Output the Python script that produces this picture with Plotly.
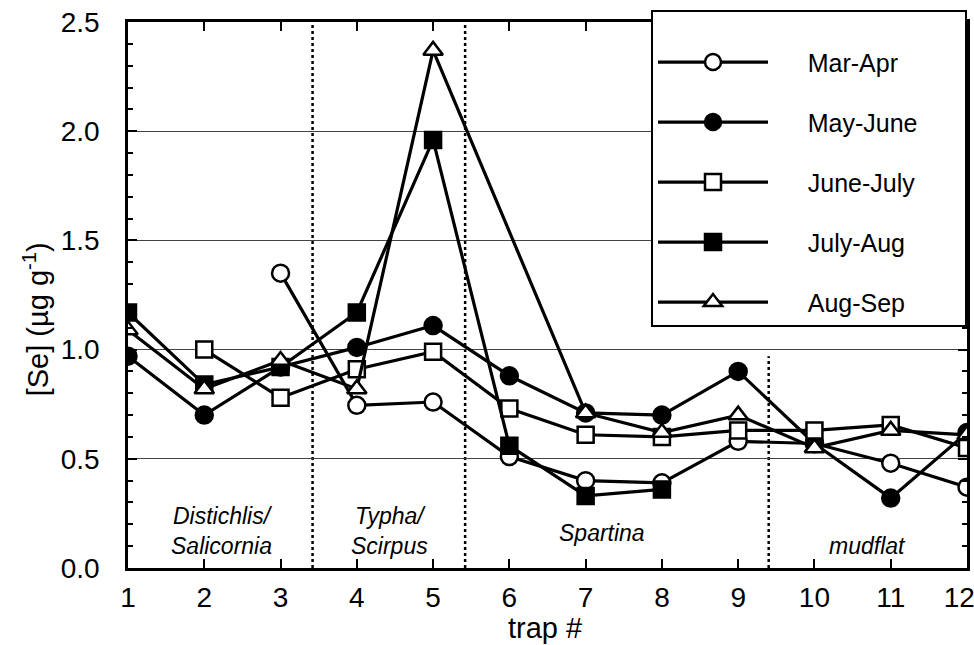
import plotly.graph_objects as go

traps = [1, 2, 3, 4, 5, 6, 7, 8, 9, 10, 11, 12]

mar_apr   = [None, None, 1.35, 0.745, 0.76, 0.51, 0.40, 0.39, 0.58, 0.57, 0.48, 0.37]
may_june  = [0.97, 0.70, 0.92, 1.01, 1.11, 0.88, 0.71, 0.70, 0.90, 0.57, 0.32, 0.62]
june_july = [None, 1.00, 0.78, 0.91, 0.99, 0.73, 0.61, 0.60, 0.63, 0.63, 0.655, 0.55]
july_aug  = [1.17, 0.84, 0.92, 1.17, 1.96, 0.56, 0.33, 0.36, None, None, None, None]
aug_sep   = [1.09, 0.82, 0.95, 0.82, 2.37, None, 0.71, 0.62, 0.70, 0.55, 0.63, 0.61]

series_names = ["Mar-Apr", "May-June", "June-July", "July-Aug", "Aug-Sep"]
series_values = [mar_apr, may_june, june_july, july_aug, aug_sep]
series_symbols = ["circle", "circle", "square", "square", "triangle-up"]
series_fills = ["white", "black", "white", "black", "white"]

zone_bounds = [3.42, 5.42, 9.4]
zone_bound_tops = [2.5, 2.5, 0.97]
zone_labels = ["<i>Distichlis/</i><br><i>Salicornia</i>", "<i>Typha/</i><br><i>Scirpus</i>", "<i>Spartina</i>", "<i>mudflat</i>"]
zone_label_x = [2.23, 4.43, 7.21, 10.7]
zone_label_y = [0.17, 0.17, 0.16, 0.10]

y_ticks = [0.0, 0.5, 1.0, 1.5, 2.0, 2.5]
x_tick_labels = ["1", "2", "3", "4", "5", "6", "7", "8", "9", "10", "11", "12"]

x_title = "trap #"
y_title = "[Se] (µg g<sup>-1</sup>)"

font_family = "Liberation Sans, Arial, sans-serif"
NB = "\u00a0"

fig = go.Figure()

for i, (name, vals, sym, fill) in enumerate(zip(series_names, series_values, series_symbols, series_fills)):
    fig.add_trace(go.Scatter(
        x=traps, y=vals, name=NB * 5 + name + NB * 6, mode="lines+markers",
        connectgaps=True,
        legendgroup=name,
        line=dict(color="black", width=3.2),
        marker=dict(symbol=sym, size=17 if sym != "square" else 16, color=fill,
                    line=dict(color="black", width=2.5)),
    ))

for xb, yt in zip(zone_bounds, zone_bound_tops):
    fig.add_shape(type="line", x0=xb, x1=xb, y0=0, y1=yt, xref="x", yref="y",
                  line=dict(color="black", width=2.5, dash="dot"), layer="below")

for txt, xx, yy in zip(zone_labels, zone_label_x, zone_label_y):
    fig.add_annotation(x=xx, y=yy, xref="x", yref="y", text=txt, showarrow=False,
                       font=dict(family=font_family, size=23, color="black"),
                       align="center")

# axis titles
fig.add_annotation(x=0.497, y=-0.142, xref="paper", yref="paper", text=x_title,
                   showarrow=False, xanchor="center", yanchor="bottom",
                   font=dict(family=font_family, size=29, color="black"))
fig.add_annotation(x=-0.11, y=0.455, xref="paper", yref="paper", text=y_title,
                   showarrow=False, xanchor="center", yanchor="middle", textangle=-90,
                   font=dict(family=font_family, size=29, color="black"))

fig.update_layout(
    width=974, height=645,
    margin=dict(l=128, r=7, t=22, b=77),
    paper_bgcolor="white", plot_bgcolor="white",
    font=dict(family=font_family, color="black"),
    showlegend=True,
    legend=dict(
        x=1.0, xanchor="right", y=1.022, yanchor="top",
        bgcolor="white", bordercolor="black", borderwidth=2,
        font=dict(family=font_family, size=25, color="black"),
        itemwidth=110,
        traceorder="grouped", tracegroupgap=24.5,
        itemclick=False,
        title=dict(text=NB, font=dict(size=21)),
    ),
    xaxis=dict(
        range=[1, 12], tickmode="array", tickvals=traps,
        ticktext=x_tick_labels[:-1] + [x_tick_labels[-1] + NB * 2],
        ticks="inside", ticklen=9, tickwidth=2, tickcolor="black",
        showline=True, linecolor="black", linewidth=2.5, mirror="ticks",
        showgrid=False, zeroline=False, automargin=False,
        ticklabeloverflow="allow", ticklabelstandoff=3,
        tickfont=dict(family=font_family, size=28, color="black"),
    ),
    yaxis=dict(
        range=[0, 2.5], tickmode="array", tickvals=y_ticks,
        ticktext=[f"{v:.1f}" for v in y_ticks],
        ticks="inside", ticklen=9, tickwidth=2, tickcolor="black",
        minor=dict(dtick=0.1, ticks="inside", ticklen=5, tickwidth=1.5, tickcolor="black", showgrid=False),
        showline=True, linecolor="black", linewidth=2.5, mirror="ticks",
        showgrid=True, gridcolor="#444", gridwidth=1,
        zeroline=False, automargin=False,
        ticklabeloverflow="allow", ticklabelstandoff=20,
        tickfont=dict(family=font_family, size=28, color="black"),
    ),
)

fig.write_html("out.html", config={"displayModeBar": False},
               post_script="document.body.style.margin='0px';")
